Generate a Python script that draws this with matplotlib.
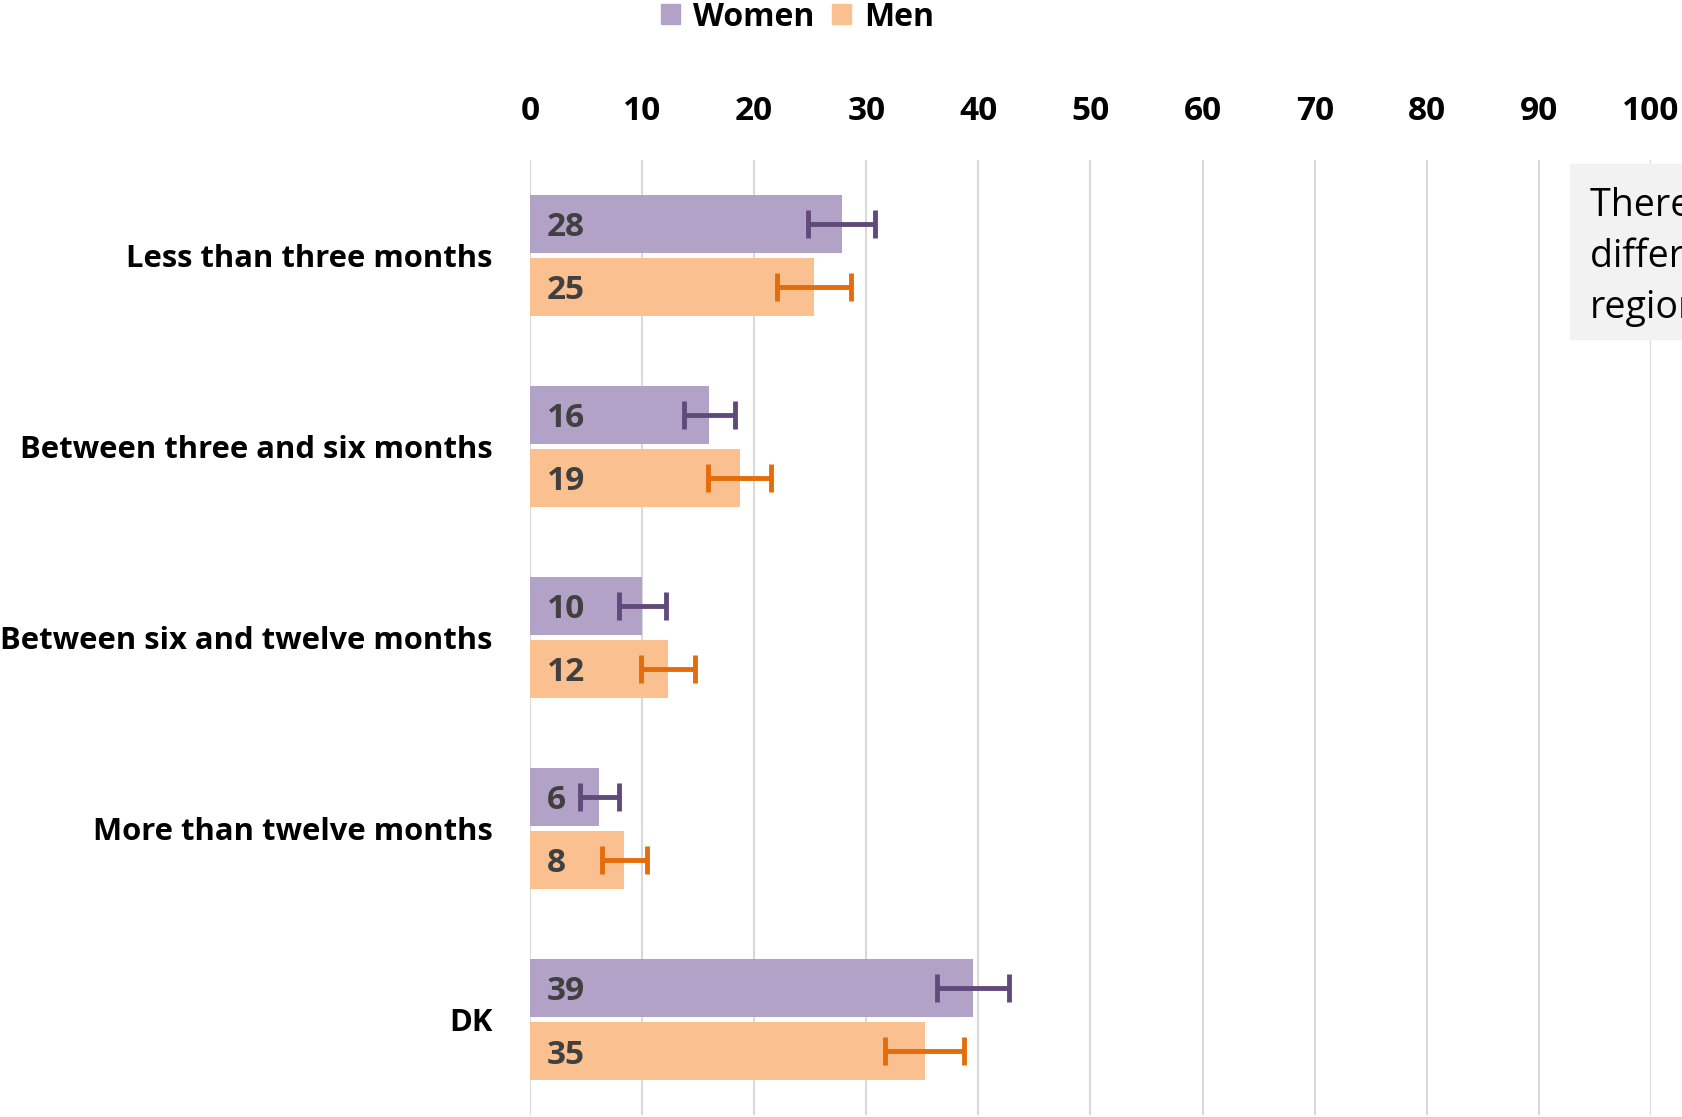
import numpy as np
import matplotlib.pyplot as plt
from matplotlib.patches import Patch, Rectangle

## Data (percent)
categories = ["Less than three months", "Between three and six months",
              "Between six and twelve months", "More than twelve months", "DK"]
women = [27.8, 16.0, 10.0, 6.2, 39.5]
men = [25.3, 18.7, 12.3, 8.4, 35.2]
women_labels = ["28", "16", "10", "6", "39"]
men_labels = ["25", "19", "12", "8", "35"]
women_err = [3.0, 2.3, 2.1, 1.7, 3.2]
men_err = [3.3, 2.8, 2.4, 2.0, 3.5]
xticks = list(range(0, 101, 10))
note = "There are no significant\ndifferences between\nregions"

## Styles
c_women, c_men = "#b3a2c7", "#fac090"
c_women_err, c_men_err = "#604a7b", "#e46c0a"
plt.rcParams['font.family'] = ['Open Sans', 'DejaVu Sans']
fs = 24

fig = plt.figure(figsize=(16.83, 11.17), dpi=100)
ax = fig.add_axes([0.3149, 0.0018, 0.981 - 0.3149, 0.8568 - 0.0018])

y = np.arange(len(categories))
off, h = 0.165, 0.30
ax.barh(y - off, women, height=h, color=c_women, zorder=2)
ax.barh(y + off, men, height=h, color=c_men, zorder=2)
ax.errorbar(women, y - off, xerr=women_err, fmt='none', ecolor=c_women_err,
            elinewidth=3.5, capsize=10, capthick=3.5, zorder=3)
ax.errorbar(men, y + off, xerr=men_err, fmt='none', ecolor=c_men_err,
            elinewidth=3.5, capsize=10, capthick=3.5, zorder=3)

# value labels inside the bars
for yi, lw, lm in zip(y, women_labels, men_labels):
    ax.text(1.5, yi - off, lw, va='center_baseline', ha='left', fontsize=fs,
            fontweight='bold', color='#404040', zorder=4)
    ax.text(1.5, yi + off, lm, va='center_baseline', ha='left', fontsize=fs,
            fontweight='bold', color='#404040', zorder=4)

ax.set_xlim(0, 100)
ax.set_ylim(len(categories) - 0.5, -0.5)
ax.set_xticks(xticks)
ax.set_yticks(y)
ax.set_yticklabels(categories)
ax.xaxis.tick_top()
ax.tick_params(axis='x', length=0, pad=23, labelsize=fs)
ax.tick_params(axis='y', length=0, pad=27, labelsize=22.3)
for lab in ax.get_xticklabels() + ax.get_yticklabels():
    lab.set_fontweight('bold')
ax.grid(axis='x', color='#d9d9d9', linewidth=1.5, zorder=0)
for s in ax.spines.values():
    s.set_visible(False)

# legend
handles = [Patch(color=c_women, label='Women'), Patch(color=c_men, label='Men')]
fig.legend(handles=handles, loc='center', bbox_to_anchor=(0.474, 1 - 17 / 1117),
           ncol=2, frameon=False, prop={'weight': 'bold', 'size': 23},
           handlelength=0.6, handleheight=0.6, handletextpad=0.4,
           columnspacing=0.55)

# note box, cut off by the right edge
fig.patches.append(Rectangle((1570 / 1683, 1 - 339 / 1117), 0.2, 175 / 1117,
                             transform=fig.transFigure, color='#f2f2f2',
                             zorder=0))
fig.text(1590 / 1683, 1 - 186 / 1117, note, ha='left', va='top', fontsize=27,
         color='black', linespacing=1.45)

fig.savefig("out.png", dpi=100)
